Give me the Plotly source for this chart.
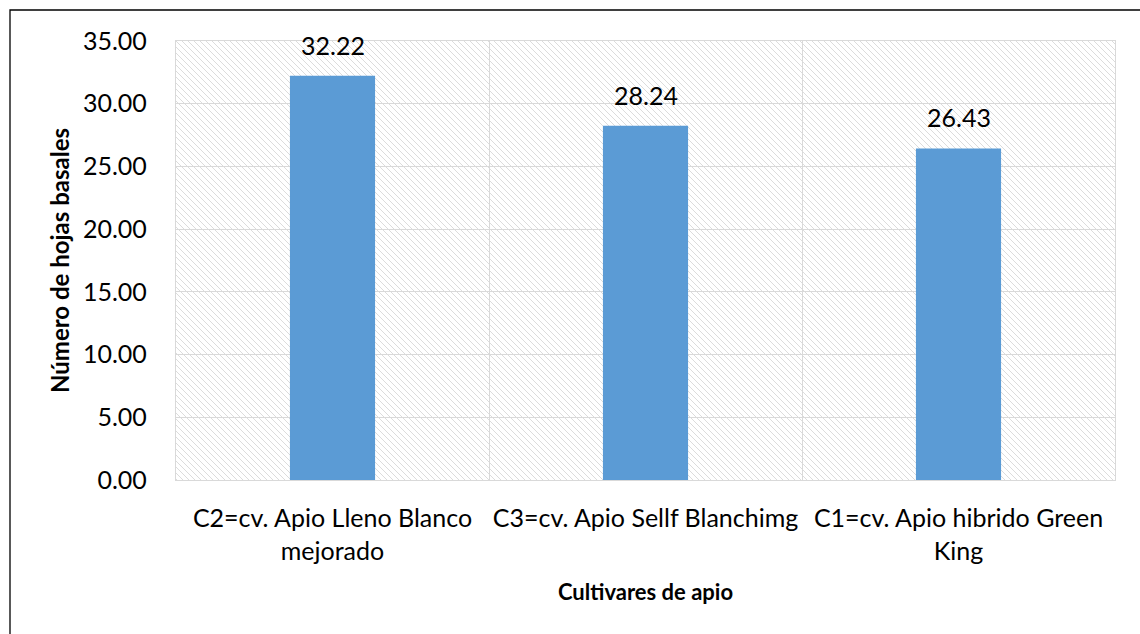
import base64
import plotly.graph_objects as go

# ---- data ----
categories = [
    "C2=cv. Apio Lleno Blanco<br>mejorado",
    "C3=cv. Apio Sellf Blanchimg",
    "C1=cv. Apio hibrido Green<br>King",
]
values = [32.22, 28.24, 26.43]
value_labels = ["32.22", "28.24", "26.43"]
y_ticks = [0, 5, 10, 15, 20, 25, 30, 35]
y_ticklabels = ["0.00", "5.00", "10.00", "15.00", "20.00", "25.00", "30.00", "35.00"]
x_title = "Cultivares de apio"
y_title = "Número de hojas basales"

# ---- layout geometry ----
W, H = 1140, 634
ML, MR, MT, MB = 176, 25, 41, 154
PW, PH = W - ML - MR, H - MT - MB

FONT = "Lato"
BAR_COLOR = "#5B9BD5"
GRID = "#d9d9d9"

# hatch background image (light downward diagonal)
svg = (
    f'<svg xmlns="http://www.w3.org/2000/svg" width="{PW}" height="{PH}">'
    '<defs><pattern id="h" width="6" height="6" patternUnits="userSpaceOnUse">'
    '<path d="M0,0 L6,6 M-3,3 L3,9 M3,-3 L9,3" stroke="#dcdcdc" stroke-width="1"/>'
    '</pattern></defs>'
    f'<rect width="{PW}" height="{PH}" fill="white"/>'
    f'<rect width="{PW}" height="{PH}" fill="url(#h)"/></svg>'
)
svg_uri = "data:image/svg+xml;base64," + base64.b64encode(svg.encode()).decode()

fig = go.Figure()
fig.add_trace(go.Bar(
    x=categories, y=values, marker=dict(color=BAR_COLOR, line=dict(width=0)),
    hoverinfo="skip", showlegend=False,
))

for c, v, t in zip(categories, values, value_labels):
    fig.add_annotation(
        x=c, y=v, text=t, showarrow=False, xref="x", yref="y",
        yanchor="bottom", yshift=14,
        font=dict(family=FONT, size=25, color="#000000"),
    )

def px_to_paper_x(p):
    return (p - ML) / PW

def px_to_paper_y(p):
    return (H - MB - p) / PH

# outer chart frame (left & top visible)
fig.add_shape(
    type="rect", xref="paper", yref="paper",
    x0=px_to_paper_x(10), x1=px_to_paper_x(W + 20),
    y0=px_to_paper_y(H + 20), y1=px_to_paper_y(10),
    line=dict(color="#000000", width=1.3), fillcolor="rgba(0,0,0,0)", layer="above",
)

fig.add_layout_image(
    source=svg_uri, xref="paper", yref="paper", x=0, y=1, sizex=1, sizey=1,
    xanchor="left", yanchor="top", sizing="stretch", layer="below",
)

fig.update_layout(
    width=W, height=H,
    margin=dict(l=ML, r=MR, t=MT, b=MB, autoexpand=False),
    paper_bgcolor="white", plot_bgcolor="white",
    bargap=0.728,
    font=dict(family=FONT, color="#000000"),
    xaxis=dict(
        showgrid=True, gridcolor=GRID, gridwidth=1.3,
        showline=True, linecolor=GRID, linewidth=1.3, mirror=True,
        tickfont=dict(family=FONT, size=25, color="#000000"),
        tickangle=0,
        ticks="", ticklabelstandoff=16, tickson="boundaries",
        title=dict(text=f"<b>{x_title}</b>", font=dict(family=FONT, size=22, color="#000000"), standoff=20),
    ),
    yaxis=dict(
        range=[0, 35], tickvals=y_ticks, ticktext=y_ticklabels,
        showgrid=True, gridcolor=GRID, gridwidth=1.3,
        showline=True, linecolor=GRID, linewidth=1.3, mirror=True,
        zeroline=False,
        tickfont=dict(family=FONT, size=25, color="#000000"),
        ticks="", ticklabelstandoff=23,
        title=dict(text=f"<b>{y_title}</b>", font=dict(family=FONT, size=24, color="#000000"), standoff=6),
    ),
)

fig.write_html("out.html")
